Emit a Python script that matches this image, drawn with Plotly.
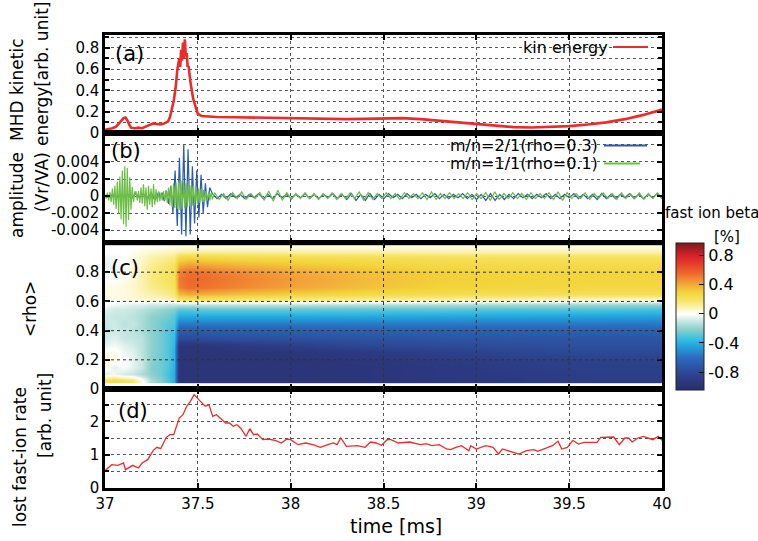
import numpy as np
import plotly.graph_objects as go

# ---------------- data ----------------
# (a) MHD kinetic energy [arb. unit]
kin_time = [37.00, 37.02, 37.04, 37.06, 37.08, 37.10, 37.11, 37.12, 37.13, 37.14, 37.16, 37.18,
            37.20, 37.22, 37.24, 37.26, 37.28, 37.30, 37.32, 37.34, 37.35, 37.36, 37.37, 37.38,
            37.39, 37.40, 37.405, 37.41, 37.415, 37.42, 37.425, 37.43, 37.435, 37.44, 37.445,
            37.45, 37.46, 37.475, 37.49, 37.50, 37.52, 37.55, 37.60, 37.70, 37.80, 37.90, 38.00,
            38.10, 38.20, 38.30, 38.40, 38.50, 38.60, 38.70, 38.80, 38.90, 39.00, 39.10, 39.20,
            39.30, 39.40, 39.50, 39.60, 39.70, 39.80, 39.90, 40.00]
kin_energy = [0.03, 0.035, 0.045, 0.06, 0.10, 0.14, 0.145, 0.12, 0.08, 0.05, 0.045, 0.05,
              0.045, 0.06, 0.08, 0.09, 0.085, 0.08, 0.09, 0.11, 0.15, 0.22, 0.30, 0.42,
              0.60, 0.70, 0.62, 0.78, 0.68, 0.85, 0.70, 0.88, 0.72, 0.75, 0.62,
              0.63, 0.48, 0.32, 0.22, 0.18, 0.16, 0.155, 0.15, 0.148, 0.145, 0.14, 0.138,
              0.133, 0.13, 0.13, 0.133, 0.14, 0.14, 0.13, 0.115, 0.095, 0.08, 0.065, 0.055,
              0.052, 0.055, 0.065, 0.08, 0.10, 0.13, 0.17, 0.22]

# (b) mode amplitudes (Vr/VA), extrema in units of 1e-4
amp_scale = 1e-4
m21_pre_span = (37.00, 37.29)
m21_pre = [1, -2, 2, -2, 2, -1, 2, -2, 3, -2, 3, -4, 4, -5, 5]
m21_burst_span = (37.296, 37.564)
m21_burst = [-3, 4, -6, 6, -9, 12, -20, 30, -35, 45, -45, 61, -47, 55, -45, 35, -32, 30,
             -25, 25, -20, 15, -13, 10]
m21_tail_span = (37.578, 40.0)
m21_tail = [3, -3, 2, -3, 3, -2, 2, -3, 2, -2, 3, -3, 2, -3, 3, -2, 2, -3, 2, -2, 3, -3, 2, -3,
            2, -2, 3, -3, 2, -4, 3, -5, 2, -5, 3, -4, 2, -3, 3, -2, 2, -3, 3, -2, 2, -3, 2, -2,
            3, -3, 2, -3, 2, -2, 3, -3, 2, -4, 2, -5, 3, -5, 2, -4, 2, -3, 3, -2, 2, -3, 2, -2,
            3, -3, 2, -3, 2, -2, 3, -3, 2, -3, 2, -4, 3, -3, 2, -3, 2, -2, 3, -3, 2, -3, 2, -2,
            3, -3]
m11_burst1_span = (37.00, 37.16)
m11_burst1 = [2, -3, 4, -5, 5, -7, 9, -10, 12, -15, 17, -20, 23, -27, 30, -33, 35, -36, 33,
              -28, 22, -16, 11, -7, 5]
m11_burst2_span = (37.167, 37.578)
m11_burst2 = [5, -5, 6, -8, 10, -9, 14, -12, 10, -16, 12, -10, 9, -13, 14, -10, 8, -7, 5, -6,
              4, -5, 6, -5, 7, -8, 10, -11, 12, -13, 15, -14, 16, -15, 17, -16, 18, -15, 16,
              -14, 15, -13, 14, -12, 13, -11, 12, -10, 10, -9, 9, -8, 8, -7, 7, -6, 6, -5, 5,
              -5, 4, -4]
m11_tail_span = (37.59, 40.0)
m11_tail = [4, -4, 3, -5, 4, -3, 5, -4, 3, -3, 4, -5, 6, -6, 7, -5, 4, -4, 3, -3, 4, -3, 3, -4,
            3, -3, 4, -4, 3, -3, 4, -3, 5, -5, 4, -4, 3, -3, 4, -3, 3, -4, 4, -3, 3, -3, 4, -4,
            5, -4, 3, -3, 4, -3, 3, -3, 4, -4, 3, -3, 4, -5, 5, -4, 3, -3, 4, -3, 3, -4, 4, -3,
            3, -3, 4, -4, 5, -5, 4, -3, 3, -3, 4, -4, 3, -3, 4, -3, 3, -4, 4, -3, 3, -3, 4, -4,
            3, -3, 4, -3]

# (c) fast ion beta [%] on a (rho, time) grid
beta_time = [37.0, 37.05, 37.1, 37.15, 37.2, 37.25, 37.3, 37.34, 37.37, 37.4, 37.45, 37.55,
             37.7, 38.0, 38.4, 38.8, 39.2, 39.6, 40.0]
beta_rho = [0.06, 0.1, 0.15, 0.2, 0.25, 0.3, 0.35, 0.4, 0.45, 0.5, 0.55, 0.58, 0.61, 0.65,
            0.7, 0.75, 0.8, 0.85, 0.9, 0.94, 0.97]
beta_z = [
    [0.22, 0.25, 0.22, 0.18, 0.02, -0.15, -0.22, -0.3, -0.4, -0.97, -0.97, -0.97, -0.97, -0.97, -0.95, -0.93, -0.9, -0.88, -0.88],
    [-0.06, -0.02, -0.08, -0.1, -0.15, -0.2, -0.25, -0.32, -0.4, -0.97, -0.97, -0.97, -0.97, -0.96, -0.95, -0.92, -0.9, -0.87, -0.87],
    [0.04, -0.05, 0.0, -0.05, -0.1, -0.22, -0.25, -0.3, -0.38, -0.97, -0.97, -0.97, -0.97, -0.96, -0.95, -0.92, -0.88, -0.86, -0.86],
    [0.06, 0.03, 0.0, -0.05, -0.1, -0.2, -0.25, -0.3, -0.38, -0.97, -0.97, -0.97, -0.97, -0.96, -0.94, -0.9, -0.87, -0.85, -0.84],
    [0.02, 0.03, -0.03, -0.05, -0.12, -0.2, -0.25, -0.3, -0.38, -0.97, -0.97, -0.97, -0.96, -0.95, -0.9, -0.86, -0.82, -0.8, -0.8],
    [-0.05, -0.02, -0.05, -0.08, -0.12, -0.2, -0.25, -0.3, -0.36, -0.95, -0.95, -0.94, -0.9, -0.86, -0.8, -0.78, -0.76, -0.75, -0.75],
    [-0.08, -0.05, -0.1, -0.1, -0.12, -0.2, -0.25, -0.3, -0.35, -0.78, -0.78, -0.76, -0.75, -0.74, -0.73, -0.72, -0.72, -0.72, -0.72],
    [-0.1, -0.08, -0.1, -0.12, -0.15, -0.2, -0.25, -0.3, -0.32, -0.68, -0.68, -0.68, -0.67, -0.67, -0.66, -0.66, -0.66, -0.66, -0.66],
    [-0.1, -0.08, -0.12, -0.1, -0.15, -0.2, -0.25, -0.28, -0.3, -0.55, -0.55, -0.55, -0.55, -0.55, -0.55, -0.55, -0.56, -0.56, -0.56],
    [-0.08, -0.1, -0.1, -0.12, -0.15, -0.2, -0.22, -0.25, -0.28, -0.42, -0.42, -0.42, -0.42, -0.42, -0.42, -0.43, -0.43, -0.44, -0.45],
    [-0.05, -0.08, -0.08, -0.1, -0.12, -0.15, -0.18, -0.2, -0.22, -0.28, -0.28, -0.27, -0.27, -0.27, -0.28, -0.28, -0.3, -0.3, -0.32],
    [0.0, -0.02, -0.03, -0.05, -0.05, -0.08, -0.08, -0.1, -0.1, -0.1, -0.1, -0.1, -0.1, -0.1, -0.12, -0.13, -0.15, -0.16, -0.18],
    [0.02, 0.02, 0.02, 0.03, 0.04, 0.05, 0.05, 0.06, 0.08, 0.14, 0.16, 0.15, 0.14, 0.12, 0.1, 0.08, 0.06, 0.04, 0.03],
    [0.03, 0.03, 0.04, 0.06, 0.08, 0.1, 0.12, 0.14, 0.16, 0.36, 0.4, 0.38, 0.35, 0.3, 0.26, 0.24, 0.23, 0.22, 0.22],
    [0.03, 0.03, 0.04, 0.06, 0.1, 0.14, 0.16, 0.18, 0.2, 0.5, 0.55, 0.53, 0.49, 0.42, 0.35, 0.3, 0.29, 0.28, 0.28],
    [0.0, 0.0, 0.02, 0.05, 0.1, 0.15, 0.18, 0.2, 0.22, 0.52, 0.57, 0.55, 0.51, 0.44, 0.36, 0.31, 0.3, 0.29, 0.29],
    [-0.03, -0.02, 0.0, 0.05, 0.1, 0.15, 0.18, 0.2, 0.22, 0.5, 0.55, 0.53, 0.49, 0.42, 0.35, 0.31, 0.29, 0.29, 0.29],
    [-0.05, -0.03, 0.0, 0.04, 0.08, 0.13, 0.16, 0.18, 0.2, 0.4, 0.44, 0.42, 0.39, 0.34, 0.3, 0.27, 0.26, 0.26, 0.26],
    [-0.03, -0.02, 0.0, 0.03, 0.06, 0.1, 0.12, 0.14, 0.15, 0.26, 0.28, 0.27, 0.26, 0.25, 0.23, 0.22, 0.21, 0.21, 0.21],
    [0.0, 0.0, 0.0, 0.02, 0.04, 0.06, 0.07, 0.08, 0.09, 0.12, 0.13, 0.13, 0.13, 0.12, 0.12, 0.11, 0.11, 0.11, 0.11],
    [0.0, 0.0, 0.0, 0.0, 0.01, 0.02, 0.02, 0.03, 0.03, 0.04, 0.04, 0.04, 0.04, 0.04, 0.04, 0.04, 0.04, 0.04, 0.04],
]
beta_min, beta_max = -1.04, 0.98

# (d) lost fast-ion rate [arb. unit]
lost_time = [37.00, 37.036, 37.07, 37.10, 37.11, 37.15, 37.18, 37.20, 37.23, 37.26, 37.28,
             37.30, 37.33, 37.35, 37.37, 37.40, 37.42, 37.44, 37.46, 37.48, 37.51, 37.54,
             37.56, 37.58, 37.60, 37.62, 37.65, 37.67, 37.69, 37.71, 37.73, 37.76, 37.78,
             37.80, 37.82, 37.85, 37.88, 37.92, 37.95, 37.98, 38.00, 38.04, 38.08, 38.12,
             38.16, 38.20, 38.23, 38.25, 38.27, 38.30, 38.33, 38.36, 38.40, 38.43, 38.46,
             38.49, 38.52, 38.54, 38.58, 38.64, 38.70, 38.73, 38.76, 38.80, 38.84, 38.86,
             38.89, 38.92, 38.96, 38.97, 39.00, 39.05, 39.09, 39.12, 39.14, 39.17, 39.23,
             39.27, 39.31, 39.33, 39.38, 39.41, 39.44, 39.46, 39.49, 39.52, 39.55, 39.58,
             39.65, 39.67, 39.74, 39.77, 39.80, 39.82, 39.84, 39.87, 39.90, 39.95, 39.98, 40.00]
lost_rate = [0.52, 0.70, 0.68, 0.75, 0.55, 0.68, 0.60, 0.75, 0.85, 1.13, 1.22,
             1.18, 1.52, 1.60, 1.60, 2.10, 2.20, 2.45, 2.60, 2.80, 2.62, 2.45,
             2.50, 2.15, 2.20, 2.10, 1.95, 1.95, 1.85, 1.90, 1.80, 1.55, 1.78,
             1.60, 1.62, 1.45, 1.47, 1.42, 1.35, 1.47, 1.45, 1.30, 1.35, 1.30,
             1.22, 1.30, 1.35, 1.30, 1.50, 1.25, 1.27, 1.27, 1.22, 1.38, 1.35,
             1.28, 1.45, 1.45, 1.35, 1.38, 1.30, 1.33, 1.27, 1.30, 1.17, 1.15,
             1.22, 1.27, 1.12, 1.27, 1.17, 1.27, 1.22, 1.02, 1.17, 1.12, 1.02,
             1.12, 1.15, 1.10, 1.22, 1.27, 1.40, 1.17, 1.22, 1.43, 1.32, 1.37,
             1.37, 1.52, 1.53, 1.30, 1.50, 1.50, 1.38, 1.50, 1.55, 1.45, 1.55, 1.43]

# tick labels
time_ticks = [37, 37.5, 38, 38.5, 39, 39.5, 40]
time_ticktext = ["37", "37.5", "38", "38.5", "39", "39.5", "40"]
kin_ticks = [0, 0.2, 0.4, 0.6, 0.8]
kin_ticktext = ["0", "0.2", "0.4", "0.6", "0.8"]
amp_ticks = [-0.004, -0.002, 0, 0.002, 0.004, 0.006]
amp_ticktext = ["-0.004", "-0.002", "0", "0.002", "0.004", ""]
rho_ticks = [0, 0.2, 0.4, 0.6, 0.8]
rho_ticktext = ["0", "0.2", "0.4", "0.6", "0.8"]
lost_ticks = [0, 1, 2]
lost_ticktext = ["0", "1", "2"]
beta_ticks = [-0.8, -0.4, 0, 0.4, 0.8]
beta_ticktext = ["-0.8", "-0.4", "0", "0.4", "0.8"]

# ---------------- assemble series ----------------
def seg(span, vals):
    return np.linspace(span[0], span[1], len(vals)), np.array(vals, dtype=float) * amp_scale

parts21 = [seg(m21_pre_span, m21_pre), seg(m21_burst_span, m21_burst), seg(m21_tail_span, m21_tail)]
parts11 = [seg(m11_burst1_span, m11_burst1), seg(m11_burst2_span, m11_burst2), seg(m11_tail_span, m11_tail)]
t21 = np.concatenate([p[0] for p in parts21]); v21 = np.concatenate([p[1] for p in parts21])
t11 = np.concatenate([p[0] for p in parts11]); v11 = np.concatenate([p[1] for p in parts11])

RED = "#ee2b2b"
BLUE = "#2b5bab"
GREEN = "#6dbe45"
FONT = "DejaVu Sans"
GRID = "#555555"

# colour scale in value space, mapped onto [zmin, zmax]
cs_vals = [-1.04, -0.9, -0.75, -0.6, -0.45, -0.35, -0.2, -0.07, 0.0, 0.07, 0.18, 0.3, 0.42, 0.55, 0.7, 0.8, 0.98]
cs_cols = ["#2a2f6c", "#2c3a82", "#2d4f9e", "#2b6cbf", "#23a0da", "#34bde3", "#8fd1cc", "#d6ede9",
           "#ffffff", "#fdf6c6", "#f7e66a", "#f3d43a", "#f3a43a", "#ee6d2c", "#e63a2a", "#d8222a", "#7a1a1e"]
colorscale = [[(v - beta_min) / (beta_max - beta_min), c] for v, c in zip(cs_vals, cs_cols)]

# ---------------- figure ----------------
W, H = 758, 541
L, R, T, B = 105, 96, 35, 53
PW, PH = W - L - R, H - T - B

def px_x(px):
    return (px - L) / PW

def px_y(py):
    return (H - B - py) / PH

dom_a = [px_y(133), 1.0]
dom_b = [px_y(243), px_y(133)]
dom_c = [px_y(389), px_y(243)]
dom_d = [0.0, px_y(389)]

fig = go.Figure()
fig.add_trace(go.Scatter(x=kin_time, y=kin_energy, mode="lines", xaxis="x", yaxis="y",
                         line=dict(color=RED, width=2.6), showlegend=False, hoverinfo="skip"))
fig.add_trace(go.Scatter(x=t21, y=v21, mode="lines", xaxis="x2", yaxis="y2",
                         line=dict(color=BLUE, width=1.2), showlegend=False, hoverinfo="skip"))
fig.add_trace(go.Scatter(x=t11, y=v11, mode="lines", xaxis="x2", yaxis="y2",
                         line=dict(color=GREEN, width=1.2), showlegend=False, hoverinfo="skip"))
fig.add_trace(go.Heatmap(x=beta_time, y=beta_rho, z=beta_z, xaxis="x3", yaxis="y3",
                         zmin=beta_min, zmax=beta_max, colorscale=colorscale, zsmooth="best",
                         hoverinfo="skip",
                         colorbar=dict(x=px_x(676), xanchor="left", xpad=0, ypad=0,
                                       y=(dom_c[0] + dom_c[1]) / 2, yanchor="middle",
                                       len=(390 - 243) / PH, lenmode="fraction", thickness=28,
                                       outlinewidth=1, outlinecolor="#222222",
                                       tickmode="array", tickvals=beta_ticks, ticktext=beta_ticktext,
                                       ticks="inside", ticklen=5, tickcolor="#111111",
                                       tickfont=dict(family=FONT, size=16, color="black"))))
fig.add_trace(go.Scatter(x=lost_time, y=lost_rate, mode="lines", xaxis="x4", yaxis="y4",
                         line=dict(color=RED, width=1.3), showlegend=False, hoverinfo="skip"))

axis_common = dict(showline=True, linewidth=2.5, linecolor="black", mirror="ticks",
                   ticks="inside", ticklen=5, tickwidth=1.5, tickcolor="black",
                   zeroline=False, griddash="dot", gridcolor=GRID, gridwidth=1,
                   tickfont=dict(family=FONT, size=15, color="black"))

def xax(domain_y_anchor, show_labels, grid=True):
    d = dict(axis_common)
    d.update(range=[37, 40], domain=[0, 1], anchor=domain_y_anchor, tickmode="array",
             tickvals=time_ticks, ticktext=time_ticktext, showticklabels=show_labels,
             showgrid=grid)
    return d

lay = dict(width=W, height=H, margin=dict(l=L, r=R, t=T, b=B),
           paper_bgcolor="white", plot_bgcolor="white", showlegend=False,
           font=dict(family=FONT, size=15, color="black"))
lay["xaxis"] = xax("y", False)
lay["xaxis2"] = xax("y2", False); lay["xaxis2"]["matches"] = "x"
lay["xaxis3"] = xax("y3", False, grid=False); lay["xaxis3"]["matches"] = "x"
lay["xaxis4"] = xax("y4", True); lay["xaxis4"]["matches"] = "x"

ya = dict(axis_common); ya.update(domain=dom_a, anchor="x", range=[0, 0.92], tickmode="array",
                                  tickvals=kin_ticks, ticktext=kin_ticktext, showgrid=True,
                                  minor=dict(dtick=0.1, tick0=0, showgrid=True, griddash="dot",
                                             gridcolor=GRID, ticks="inside", ticklen=4,
                                             tickcolor="black"))
yb = dict(axis_common); yb.update(domain=dom_b, anchor="x2", range=[-0.0055, 0.0074], tickmode="array",
                                  tickvals=amp_ticks, ticktext=amp_ticktext, showgrid=True)
yc = dict(axis_common); yc.update(domain=dom_c, anchor="x3", range=[0, 1], tickmode="array",
                                  tickvals=rho_ticks, ticktext=rho_ticktext, showgrid=False)
yd = dict(axis_common); yd.update(domain=dom_d, anchor="x4", range=[0, 2.97], tickmode="array",
                                  tickvals=lost_ticks, ticktext=lost_ticktext, showgrid=True,
                                  minor=dict(dtick=0.5, tick0=0, showgrid=True, griddash="dot",
                                             gridcolor=GRID, ticks="inside", ticklen=4,
                                             tickcolor="black"))
lay["yaxis"], lay["yaxis2"], lay["yaxis3"], lay["yaxis4"] = ya, yb, yc, yd
fig.update_layout(**lay)

# grid over the heatmap (drawn above it, at the tick positions)
shapes = []
for v in rho_ticks[1:]:
    shapes.append(dict(type="line", xref="x3 domain", yref="y3", x0=0, x1=1, y0=v, y1=v,
                       line=dict(color="#333333", width=1, dash="dot"), layer="above"))
for v in time_ticks[1:-1]:
    shapes.append(dict(type="line", xref="x3", yref="y3 domain", x0=v, x1=v, y0=0, y1=1,
                       line=dict(color="#333333", width=1, dash="dot"), layer="above"))
# legend keys (text on the left, key line on the right)
legend_items = [("kin energy", RED, 610, 47, 613, 648),
                ("m/n=2/1(rho=0.3)", BLUE, 600, 145.5, 604, 647),
                ("m/n=1/1(rho=0.1)", GREEN, 600, 163.5, 604, 640)]
annotations = []
for text, col, tx, ty, lx0, lx1 in legend_items:
    annotations.append(dict(text=text, x=px_x(tx), y=px_y(ty), xref="paper", yref="paper",
                            xanchor="right", yanchor="middle", showarrow=False,
                            font=dict(family=FONT, size=16, color="black")))
    shapes.append(dict(type="line", xref="paper", yref="paper", x0=px_x(lx0), x1=px_x(lx1),
                       y0=px_y(ty), y1=px_y(ty), line=dict(color=col, width=2), layer="above"))
fig.update_layout(shapes=shapes)

def ann(text, px, py, size, angle=0, xanchor="center"):
    annotations.append(dict(text=text, x=px_x(px), y=px_y(py), xref="paper", yref="paper",
                            xanchor=xanchor, yanchor="middle", showarrow=False, textangle=angle,
                            font=dict(family=FONT, size=size, color="black")))

# panel labels
ann("(a)", 113, 54, 21, xanchor="left")
ann("(b)", 109, 151, 21, xanchor="left")
ann("(c)", 109, 268, 21, xanchor="left")
ann("(d)", 116, 411, 21, xanchor="left")
# axis titles
ann("MHD kinetic", 17, 90, 17, -90)
ann("energy[arb. unit]", 42, 74, 17, -90)
ann("amplitude", 17, 195, 17, -90)
ann("(Vr/VA)", 42, 182, 17, -90)
ann("&lt;rho&gt;", 30, 309, 17, -90)
ann("lost fast-ion rate", 20, 457, 17, -90)
ann("[arb. unit]", 45, 416, 17, -90)
ann("time [ms]", 396, 526, 19)
# colour bar title
ann("fast ion beta", 712, 213, 15)
ann("[%]", 727, 237, 15)
fig.update_layout(annotations=annotations)

fig.write_html("out.html", config={"displayModeBar": False},
               post_script="document.body.style.margin='0';document.body.style.overflow='hidden';")
